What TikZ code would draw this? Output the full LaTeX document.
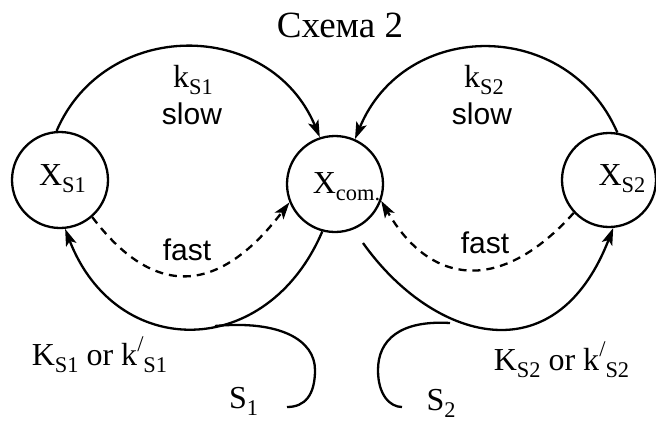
\documentclass[tikz,border=0pt]{standalone}
\usepackage{fontspec}
\setmainfont{Liberation Serif}
\setsansfont{Liberation Sans}
\usetikzlibrary{arrows.meta}
% lowered index and the slash-shaped prime used in the rate constants
\newcommand\lowidx[1]{\raisebox{-0.22em}{\fontsize{22.4}{22.4}\selectfont #1}}
\newcommand\slashprime{\raisebox{0.42em}{\fontsize{22.4}{22.4}\selectfont /}}
\begin{document}
\begin{tikzpicture}[x=1pt,y=-1pt,line width=2.3pt,
  state/.style={circle,draw,minimum size=96pt,inner sep=0pt},
  lbl/.style={inner sep=0pt,anchor=base,font=\fontsize{32}{32}\selectfont},
  word/.style={inner sep=0pt,anchor=base,font=\sffamily\fontsize{30}{30}\selectfont},
  conn/.style={-{Stealth[length=17pt,width=11pt,inset=4pt]}},
  fastconn/.style={conn,dash pattern=on 8pt off 6pt}]
\useasboundingbox (0,0) rectangle (656,423);

% title
\node[inner sep=0pt,anchor=base,font=\fontsize{37}{37}\selectfont] (title) at (340,37) {Схема 2};

% states
\node[state] (xs1) at (60,180) {};
\node[state] (xcom) at (335,184) {};
\node[state,minimum size=94pt] (xs2) at (609,180) {};
\node[lbl] (xs1t) at (62.5,185) {X\lowidx{S1}};
\node[lbl] (xcomt) at (346.5,193) {X\lowidx{com.}};
\node[lbl] (xs2t) at (622,185) {X\lowidx{S2}};

% slow transfer to the common state
\draw[conn] (xs1.94) .. controls (105,18) and (270,18) .. (xcom.108);
\draw[conn] (xs2.80) .. controls (568,18) and (405,18) .. (xcom.66);
\node[lbl] (k1) at (193,87) {k\lowidx{S1}};
\node[word] (slow1) at (192,124) {slow};
\node[lbl] (k2) at (484,87) {k\lowidx{S2}};
\node[word] (slow2) at (482,124) {slow};

% fast exchange
\draw[fastconn] (xs1.-49) .. controls (153,297) and (217,297) .. (xcom.-158);
\draw[fastconn] (xs2.-137) .. controls (500,295) and (430,285) .. (xcom.-20);
\node[word] (fast1) at (187,260) {fast};
\node[word] (fast2) at (485,253) {fast};

% substrate binding
\draw[conn] (xcom.-105) .. controls (267,361) and (116,361) .. (xs1.-84);
\coordinate (r0) at (363,243);
\draw[conn] (r0) .. controls (432,340) and (555,378) .. (xs2.-85);

\coordinate (s1a) at (215,326);
\coordinate (s1b) at (287,407);
\draw (s1a) .. controls (280,320) and (315,340) .. (315,370)
      .. controls (315,395) and (305,407) .. (s1b);
\coordinate (s2a) at (450,323);
\coordinate (s2b) at (402,407);
\draw (s2a) .. controls (400,320) and (378,340) .. (378,370)
      .. controls (378,395) and (390,407) .. (s2b);

\node[lbl] (kk1) at (99.5,365) {K\lowidx{S1} or k\slashprime\lowidx{S1}};
\node[lbl] (kk2) at (561.5,370) {K\lowidx{S2} or k\slashprime\lowidx{S2}};
\node[lbl] (sub1) at (243.5,408) {S\lowidx{1}};
\node[lbl] (sub2) at (441,410) {S\lowidx{2}};
\end{tikzpicture}
\end{document}
